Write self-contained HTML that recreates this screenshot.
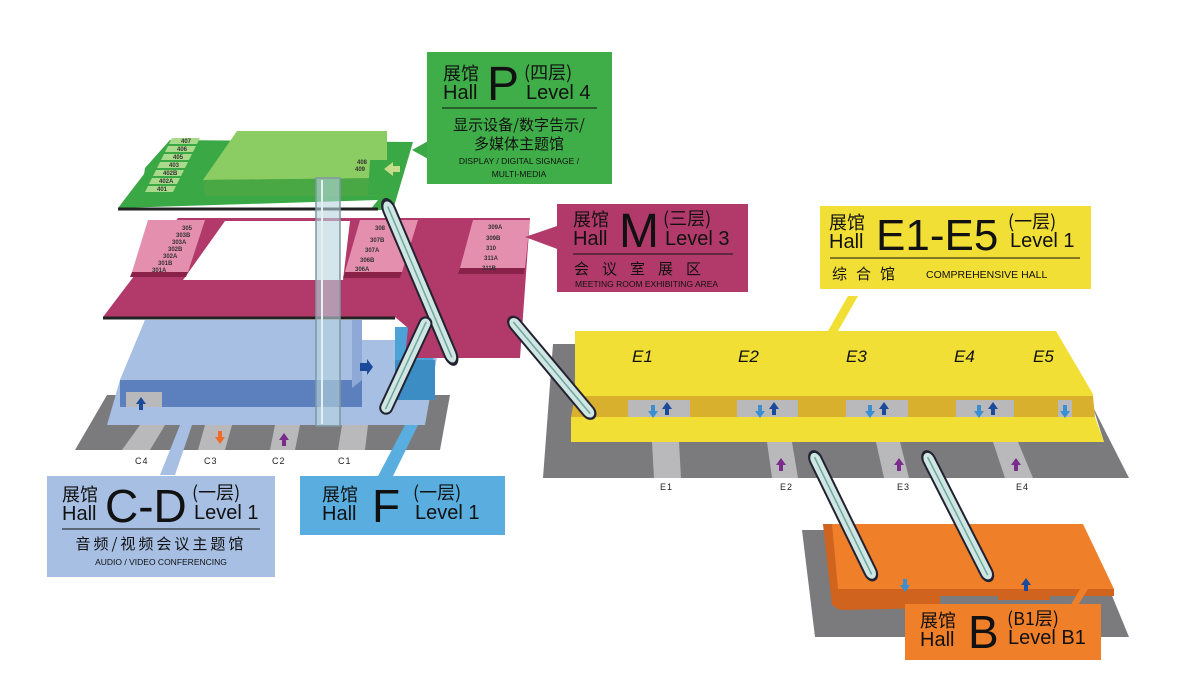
<!DOCTYPE html>
<html><head><meta charset="utf-8"><style>
html,body{margin:0;padding:0;background:#fff;width:1200px;height:694px;overflow:hidden}
svg{display:block}
text{font-family:"Liberation Sans","Noto Sans CJK SC",sans-serif;fill:#111}
.cn{font-family:"Noto Sans CJK SC","WenQuanYi Zen Hei",sans-serif}
.rm{font-size:6px;font-weight:bold;fill:#333}
.g{font-size:9px;fill:#222;letter-spacing:1px}
.h{font-size:20px}
.hc{font-size:18px}
</style></head><body>
<svg width="1200" height="694" viewBox="0 0 1200 694" xmlns="http://www.w3.org/2000/svg">
<defs>
<g id="esc"><rect x="-6" y="0" width="12" height="100" rx="6" fill="#cfe6e2" stroke="#223" stroke-width="2"/><line x1="0" y1="4" x2="0" y2="96" stroke="#6fa6a0" stroke-width="1.5"/></g>
<path id="au" d="M-5 0 L0 -7 L5 0 L2 0 L2 6 L-2 6 L-2 0Z"/>
</defs>

<!-- ===== Ground C-D ===== -->
<polygon points="107,395 450,395 440,450 75,450" fill="#7b7b7d"/>
<polygon points="140,425 165,425 150,450 122,450" fill="#b9b9bb"/>
<polygon points="205,425 232,425 225,450 198,450" fill="#b9b9bb"/>
<polygon points="275,425 300,425 295,450 270,450" fill="#b9b9bb"/>
<polygon points="342,425 368,425 365,450 338,450" fill="#b9b9bb"/>
<text class="g" x="135" y="464">C4</text><text class="g" x="204" y="464">C3</text><text class="g" x="272" y="464">C2</text><text class="g" x="338" y="464">C1</text>
<use href="#au" x="220" y="443" fill="#f06a28" transform="rotate(180 220 440)"/>
<use href="#au" x="284" y="440" fill="#7a2c8c"/>

<!-- light blue C-D -->
<polygon points="107,425 120,380 145,320 362,320 362,340 440,340 425,425" fill="#a7bfe3"/>
<polygon points="120,380 362,380 362,407 120,407" fill="#5c7fbe"/>
<rect x="126" y="392" width="36" height="15" fill="#b9b9bb"/>
<polygon points="145,320 362,320 362,380 120,380" fill="#a7bfe3"/>
<polygon points="352,320 362,320 362,380 352,388" fill="#8fa9d6"/>
<use href="#au" x="141" y="404" fill="#1c4a9a"/>
<polygon points="360,363 367,363 367,359 373,367 367,375 367,371 360,371" fill="#1c4a9a"/>
<!-- F block -->
<polygon points="395,327 432,327 435,400 395,400" fill="#4da3d8"/>
<polygon points="395,360 435,360 435,400 395,400" fill="#3b8dc4"/>

<!-- ===== Magenta M floor ===== -->
<polygon points="178,218 530,218 520,358 405,358 408,328 395,317 103,317" fill="#b23a6a"/>
<polygon points="225,221 350,221 343,280 183,280" fill="#fff"/>
<line x1="103" y1="318" x2="395" y2="318" stroke="#222" stroke-width="3"/>
<g>
<polygon points="148,220 205,220 188,272 132,272" fill="#e58fae"/>
<polygon points="132,272 188,272 186,277 130,277" fill="#8a2149"/>
<polygon points="360,220 418,220 402,272 345,272" fill="#e58fae"/>
<polygon points="345,272 402,272 400,278 343,278" fill="#8a2149"/>
<polygon points="473,220 530,220 525,268 460,268" fill="#e58fae"/>
<polygon points="460,268 525,268 524,274 458,274" fill="#8a2149"/>
<text class="rm" x="182" y="230">305</text><text class="rm" x="176" y="237">303B</text><text class="rm" x="172" y="244">303A</text><text class="rm" x="168" y="251">302B</text><text class="rm" x="163" y="258">302A</text><text class="rm" x="158" y="265">301B</text><text class="rm" x="152" y="272">301A</text>
<text class="rm" x="375" y="230">308</text><text class="rm" x="370" y="242">307B</text><text class="rm" x="365" y="252">307A</text><text class="rm" x="360" y="262">306B</text><text class="rm" x="355" y="271">306A</text>
<text class="rm" x="488" y="229">309A</text><text class="rm" x="486" y="240">309B</text><text class="rm" x="486" y="250">310</text><text class="rm" x="484" y="260">311A</text><text class="rm" x="482" y="270">311B</text>
</g>
<polygon points="525,237 560,225 560,250" fill="#b23a6a"/>

<!-- ===== Green P floor ===== -->
<polygon points="170,140 413,142 393,210 370,210 378,200 118,208" fill="#3aa845"/>
<line x1="118" y1="209" x2="378" y2="209" stroke="#222" stroke-width="3"/>
<polygon points="237,131 387,131 387,178 203,180" fill="#8ccd63"/>
<polygon points="203,180 387,178 385,196 205,196" fill="#4aa844"/>
<polygon points="370,160 387,160 387,195 368,195" fill="#3aa845"/>
<polygon points="145,168 170,140 208,142 185,200 140,200" fill="#3aa845"/>
<g fill="#a9d98a">
<polygon points="172,138 200,138 197,144 169,144"/><polygon points="168,146 196,146 193,152 165,152"/><polygon points="164,154 192,154 189,160 161,160"/><polygon points="160,162 188,162 185,168 157,168"/><polygon points="156,170 184,170 181,176 153,176"/><polygon points="152,178 180,178 177,184 149,184"/><polygon points="148,186 176,186 173,192 145,192"/>
</g>
<text class="rm" x="181" y="143">407</text><text class="rm" x="177" y="151">406</text><text class="rm" x="173" y="159">405</text><text class="rm" x="169" y="167">403</text><text class="rm" x="163" y="175">402B</text><text class="rm" x="159" y="183">402A</text><text class="rm" x="157" y="191">401</text>
<text class="rm" x="357" y="164">408</text><text class="rm" x="355" y="171">409</text>
<polygon points="384,169 393,162 393,166 400,166 400,172 393,172 393,176" fill="#c5dc8a"/>
<polygon points="412,150 430,140 430,160" fill="#3aa845"/>

<!-- elevator shaft -->
<rect x="316" y="178" width="24" height="248" fill="#b8d6dd" fill-opacity="0.6" stroke="#7e97a0" stroke-width="1.5"/>
<line x1="322" y1="180" x2="322" y2="424" stroke="#e4f1f2" stroke-width="2"/>

<!-- ===== E floor ===== -->
<polygon points="553,344 575,344 575,440 1104,442 1093,407 1129,478 543,478" fill="#7b7b7d"/>
<polygon points="575,331 1056,331 1093,394 1093,396 575,396" fill="#f2df35"/>
<polygon points="575,396 1093,396 1095,417 571,417" fill="#d8b02e"/>
<polygon points="571,417 1095,417 1104,442 571,442" fill="#f2df35"/>
<g fill="#b9b9bb"><rect x="628" y="400" width="62" height="17"/><rect x="737" y="400" width="61" height="17"/><rect x="846" y="400" width="62" height="17"/><rect x="956" y="400" width="58" height="17"/><rect x="1058" y="400" width="14" height="17"/>
<polygon points="652,442 679,442 681,478 654,478"/><polygon points="767,442 792,442 798,478 772,478"/><polygon points="876,442 900,442 909,478 884,478"/><polygon points="993,442 1018,442 1033,478 1005,478"/></g>
<g font-size="17" font-style="italic"><text x="632" y="362">E1</text><text x="738" y="362">E2</text><text x="846" y="362">E3</text><text x="954" y="362">E4</text><text x="1033" y="362">E5</text></g>
<g>
<use href="#au" x="653" y="405" fill="#3a8fd0" transform="rotate(180 653 408)"/><use href="#au" x="667" y="409" fill="#1c4a9a"/>
<use href="#au" x="760" y="405" fill="#3a8fd0" transform="rotate(180 760 408)"/><use href="#au" x="774" y="409" fill="#1c4a9a"/>
<use href="#au" x="870" y="405" fill="#3a8fd0" transform="rotate(180 870 408)"/><use href="#au" x="884" y="409" fill="#1c4a9a"/>
<use href="#au" x="979" y="405" fill="#3a8fd0" transform="rotate(180 979 408)"/><use href="#au" x="993" y="409" fill="#1c4a9a"/>
<use href="#au" x="1065" y="405" fill="#3a8fd0" transform="rotate(180 1065 408)"/>
<use href="#au" x="781" y="465" fill="#7a2c8c"/><use href="#au" x="899" y="465" fill="#7a2c8c"/><use href="#au" x="1016" y="465" fill="#7a2c8c"/>
</g>
<text class="g" x="660" y="490">E1</text><text class="g" x="780" y="490">E2</text><text class="g" x="897" y="490">E3</text><text class="g" x="1016" y="490">E4</text>
<polygon points="838,331 858,296 848,296 828,331" fill="#f2df35"/>

<!-- ===== B floor ===== -->
<polygon points="802,530 1085,530 1129,637 815,637" fill="#7b7b7d"/>
<polygon points="823,524 1083,524 1114,589 832,589" fill="#f07f2a"/>
<polygon points="832,589 1114,589 1114,596 1050,596 1050,600 998,600 998,596 940,596 940,608 840,610" fill="#d0631d"/>
<polygon points="823,524 832,524 840,610 832,605" fill="#d0631d"/>
<use href="#au" x="905" y="579" fill="#3a8fd0" transform="rotate(180 905 582)"/>
<use href="#au" x="1026" y="585" fill="#1c4a9a"/>
<polygon points="1080,589 1088,589 1075,610 1068,610" fill="#f07f2a"/>

<!-- escalators -->
<use href="#esc" transform="translate(385,200) rotate(-23) scale(1,1.78)"/>
<use href="#esc" transform="translate(428,318) rotate(25) scale(1,1.05)"/>
<use href="#esc" transform="translate(510,318) rotate(-40) scale(1,1.3)"/>
<use href="#esc" transform="translate(812,452) rotate(-26) scale(1,1.42)"/>
<use href="#esc" transform="translate(925,452) rotate(-27) scale(1,1.44)"/>

<!-- pointers -->
<polygon points="160,475 180,425 192,425 175,475" fill="#a7bfe3"/>
<polygon points="378,476 405,425 418,425 393,476" fill="#5aaedf"/>

<!-- ===== Labels ===== -->
<rect x="427" y="52" width="185" height="132" fill="#3fae49"/>
<text class="cn hc" x="443" y="80">展馆</text><text class="h" x="443" y="99">Hall</text>
<text x="487" y="100" font-size="48">P</text>
<text class="cn hc" x="524" y="79">(四层)</text><text class="h" x="526" y="99">Level 4</text>
<line x1="442" y1="108" x2="597" y2="108" stroke="#111" stroke-width="1"/>
<text class="cn" x="519" y="130" font-size="15" text-anchor="middle">显示设备/数字告示/</text>
<text class="cn" x="519" y="149" font-size="15" text-anchor="middle">多媒体主题馆</text>
<text x="519" y="164" font-size="8.5" text-anchor="middle">DISPLAY / DIGITAL SIGNAGE /</text>
<text x="519" y="177" font-size="8.5" text-anchor="middle">MULTI-MEDIA</text>

<rect x="557" y="204" width="191" height="88" fill="#b23a6a"/>
<text class="cn hc" x="573" y="226">展馆</text><text class="h" x="573" y="245">Hall</text>
<text x="619" y="247" font-size="48">M</text>
<text class="cn hc" x="663" y="225">(三层)</text><text class="h" x="665" y="245">Level 3</text>
<line x1="573" y1="254" x2="733" y2="254" stroke="#111" stroke-width="1"/>
<text class="cn" x="574" y="274" font-size="15" letter-spacing="13">会议室展区</text>
<text x="575" y="287" font-size="8.5">MEETING ROOM EXHIBITING AREA</text>

<rect x="820" y="206" width="271" height="83" fill="#f2df35"/>
<text class="cn hc" x="829" y="229">展馆</text><text class="h" x="829" y="248">Hall</text>
<text x="876" y="250" font-size="44">E1-E5</text>
<text class="cn hc" x="1008" y="228">(一层)</text><text class="h" x="1010" y="247">Level 1</text>
<line x1="830" y1="258" x2="1080" y2="258" stroke="#111" stroke-width="1"/>
<text class="cn" x="832" y="279" font-size="15" letter-spacing="9">综合馆</text>
<text x="926" y="278" font-size="10.5">COMPREHENSIVE HALL</text>

<rect x="47" y="476" width="228" height="101" fill="#a7bfe3"/>
<text class="cn hc" x="62" y="501">展馆</text><text class="h" x="62" y="520">Hall</text>
<text x="105" y="522" font-size="46">C-D</text>
<text class="cn hc" x="192" y="499">(一层)</text><text class="h" x="194" y="519">Level 1</text>
<line x1="62" y1="529" x2="260" y2="529" stroke="#111" stroke-width="1"/>
<text class="cn" x="161" y="549" font-size="15" text-anchor="middle" letter-spacing="3">音频/视频会议主题馆</text>
<text x="161" y="565" font-size="8.5" text-anchor="middle">AUDIO / VIDEO CONFERENCING</text>

<rect x="300" y="476" width="205" height="59" fill="#5aaedf"/>
<text class="cn hc" x="322" y="501">展馆</text><text class="h" x="322" y="520">Hall</text>
<text x="372" y="522" font-size="46">F</text>
<text class="cn hc" x="413" y="499">(一层)</text><text class="h" x="415" y="519">Level 1</text>

<rect x="905" y="604" width="196" height="56" fill="#f07f2a"/>
<text class="cn hc" x="920" y="627">展馆</text><text class="h" x="920" y="646">Hall</text>
<text x="968" y="648" font-size="46">B</text>
<text class="cn hc" x="1007" y="625">(B1层)</text><text class="h" x="1008" y="644">Level B1</text>
</svg>
</body></html>
